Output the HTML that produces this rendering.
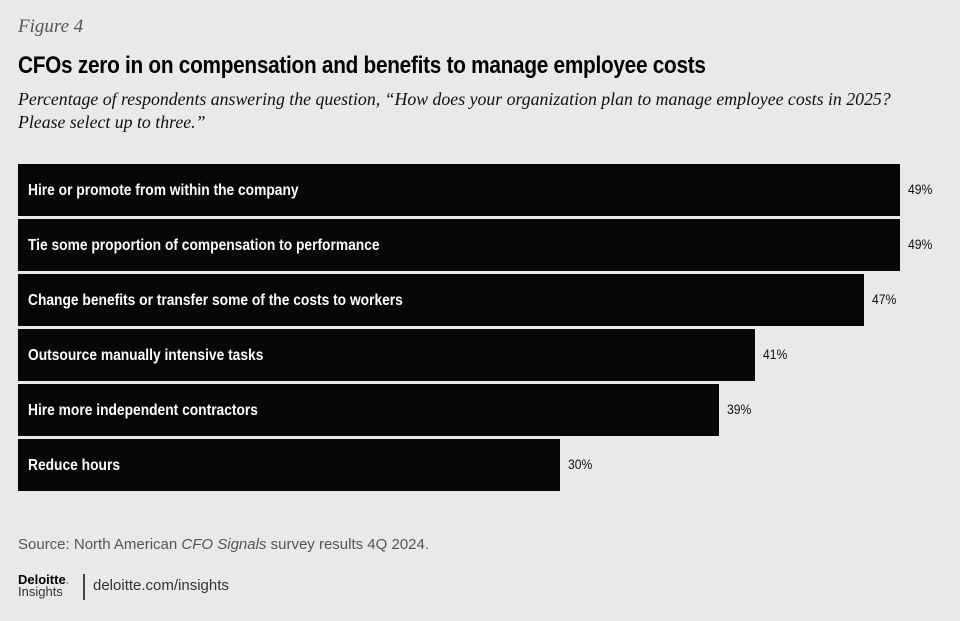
<!DOCTYPE html>
<html><head><meta charset="utf-8"><style>
html,body{margin:0;padding:0}
body{width:960px;height:621px;background:#e8e9e8;position:relative;overflow:hidden;font-family:"Liberation Sans",sans-serif}
.a{position:absolute;white-space:nowrap}
.fig{left:18px;top:16px;font-family:"Liberation Serif",serif;font-style:italic;font-size:19px;color:#555}
.title{left:18px;top:52px;font-weight:bold;font-size:24px;color:#000;letter-spacing:-0.3px;transform:scaleX(0.865);transform-origin:0 0}
.sub{left:18px;top:88px;font-family:"Liberation Serif",serif;font-style:italic;font-size:17.8px;color:#111;line-height:23px}
.bar{position:absolute;left:18px;height:52px;background:#060708}
.bar span{position:absolute;left:10px;top:18px;color:#fff;font-weight:bold;font-size:15.5px;transform:scaleX(0.89);transform-origin:0 0}
.v{position:absolute;font-size:13.5px;color:#111;transform:scaleX(0.9);transform-origin:0 0}
.src{left:18px;top:536px;font-size:15px;color:#555}
</style></head><body>
<div class="a fig">Figure 4</div>
<div class="a title">CFOs zero in on compensation and benefits to manage employee costs</div>
<div class="a sub">Percentage of respondents answering the question, “How does your organization plan to manage employee costs in 2025?<br>Please select up to three.”</div>

<div class="bar" style="top:164px;width:882px"><span>Hire or promote from within the company</span></div><div class="v" style="left:908px;top:182px">49%</div>
<div class="bar" style="top:219px;width:882px"><span>Tie some proportion of compensation to performance</span></div><div class="v" style="left:908px;top:237px">49%</div>
<div class="bar" style="top:274px;width:846px"><span>Change benefits or transfer some of the costs to workers</span></div><div class="v" style="left:872px;top:292px">47%</div>
<div class="bar" style="top:329px;width:737px"><span>Outsource manually intensive tasks</span></div><div class="v" style="left:763px;top:347px">41%</div>
<div class="bar" style="top:384px;width:701px"><span>Hire more independent contractors</span></div><div class="v" style="left:727px;top:402px">39%</div>
<div class="bar" style="top:439px;width:542px"><span>Reduce hours</span></div><div class="v" style="left:568px;top:457px">30%</div>

<div class="a src">Source: North American <i>CFO Signals</i> survey results 4Q 2024.</div>
<div class="a" style="left:18px;top:573px;font-weight:bold;font-size:13px;color:#000;line-height:13px">Deloitte<span style="color:#86bc25">.</span></div>
<div class="a" style="left:18px;top:585px;font-size:13px;color:#333;line-height:14px">Insights</div>
<div class="a" style="left:83px;top:574px;width:1.5px;height:26px;background:#444"></div>
<div class="a" style="left:93px;top:577px;font-size:15px;color:#333">deloitte.com/insights</div>
</body></html>
